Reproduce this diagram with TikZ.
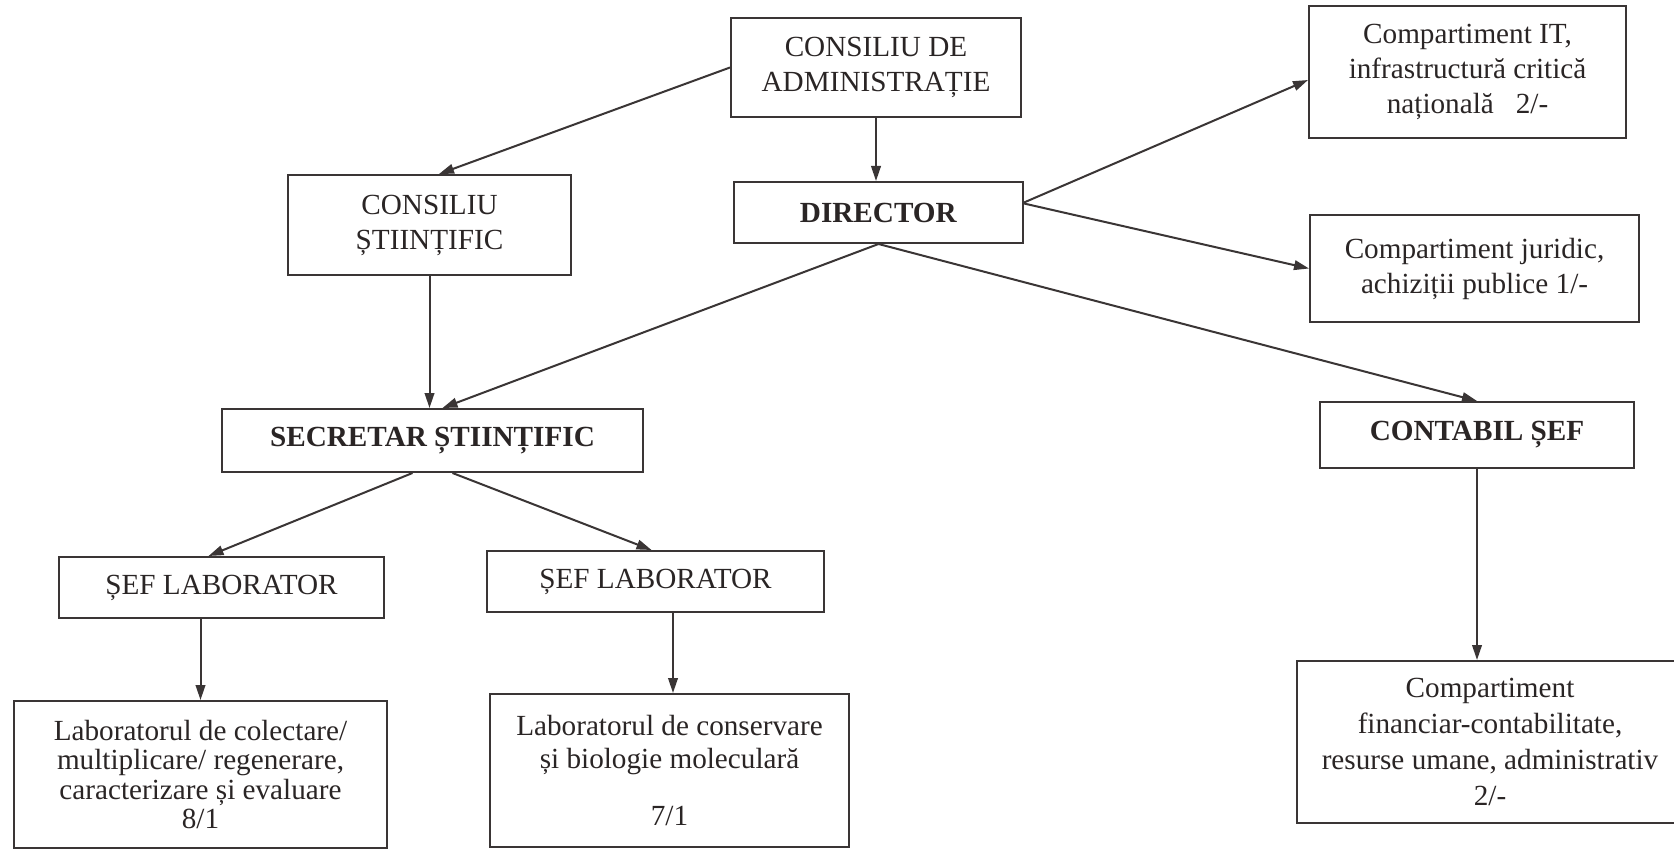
\documentclass[tikz,border=0pt]{standalone}
\usepackage{fontspec}
\setmainfont{Liberation Serif}
\usetikzlibrary{arrows.meta,calc}
\definecolor{linec}{HTML}{3A3535}
\definecolor{textc}{HTML}{2A2525}
\newcommand\boxfont{\fontsize{14.6pt}{17.5pt}\selectfont}
\begin{document}
\begin{tikzpicture}[x=0.5pt,y=-0.5pt,
  orgbox/.style={draw=linec, line width=1pt, inner sep=0pt, align=center, text=textc, font=\boxfont},
  arr/.style={draw=linec, line width=1pt, -{Triangle[length=7.5pt,width=4.8pt]}}]
\useasboundingbox (0,0) rectangle (1674,850);
\clip (0,0) rectangle (1674,850);
\fill[white] (0,0) rectangle (1674,850);

\node[orgbox, minimum width=145pt, minimum height=49.5pt] (cda) at (876,67.5) {CONSILIU DE\\ADMINISTRAȚIE};
\node[orgbox, minimum width=141.5pt, minimum height=50pt] (cs) at (429.5,225) {CONSILIU\\ȘTIINȚIFIC};
\node[orgbox, minimum width=144.5pt, minimum height=30.5pt] (dir) at (878.5,212.5) {\textbf{DIRECTOR}};
\node[orgbox, minimum width=158.5pt, minimum height=66pt] (it) at (1467.5,72) {Compartiment IT,\\infrastructură critică\\națională\ \ \ 2/-};
\node[orgbox, minimum width=164.5pt, minimum height=53.5pt] (jur) at (1474.5,268.5) {Compartiment juridic,\\achiziții publice 1/-};
\node[orgbox, minimum width=210.5pt, minimum height=31.5pt] (sec) at (432.5,440.5) {\textbf{SECRETAR ȘTIINȚIFIC}};
\node[orgbox, minimum width=157pt, minimum height=33pt] (cont) at (1477,435) {\textbf{CONTABIL ȘEF}};
\node[orgbox, minimum width=162.5pt, minimum height=30.5pt] (sefl) at (221.5,587.5) {ȘEF LABORATOR};
\node[orgbox, minimum width=168.5pt, minimum height=30.5pt] (sefr) at (655.5,581.5) {ȘEF LABORATOR};
\node[orgbox, minimum width=186.5pt, minimum height=73.5pt, font=\fontsize{14.6pt}{14.8pt}\selectfont] (labl) at (200.5,774.5) {Laboratorul de colectare/\\multiplicare/ regenerare,\\caracterizare și evaluare\\8/1};
\node[orgbox, minimum width=179.5pt, minimum height=76.5pt, font=\fontsize{14.6pt}{16.5pt}\selectfont] (labr) at (669.5,770.5) {Laboratorul de conservare\\și biologie moleculară\\[12pt]7/1};
\node[orgbox, minimum width=193pt, minimum height=81pt, font=\fontsize{14.6pt}{18pt}\selectfont] (fin) at (1490,742) {Compartiment\\financiar-contabilitate,\\resurse umane, administrativ\\2/-};

\coordinate (rl) at ($(labr.north)+(3.5,0)$);

\draw[arr] (cda.west) -- ($(cs.north)+(9.5,0)$);
\draw[arr] (cda.south) -- (cda.south |- dir.north);
\draw[arr] ($(dir.east)+(0,-10)$) -- ($(it.west)+(0,8)$);
\draw[arr] ($(dir.east)+(0,-9)$) -- (jur.west);
\draw[arr] (dir.south) -- (cont.north);
\draw[arr] (dir.south) -- ($(sec.north)+(10,0)$);
\draw[arr] (cs.south) -- (cs.south |- sec.north);
\draw[arr] ($(sec.south)+(-20,0)$) -- ($(sefl.north)+(-13,0)$);
\draw[arr] ($(sec.south)+(20,0)$) -- ($(sefr.north)+(-4,0)$);
\draw[arr] (sefl.south -| labl.north) -- (labl.north);
\draw[arr] (sefr.south -| rl) -- (rl);
\draw[arr] (cont.south) -- (cont.south |- fin.north);
\end{tikzpicture}
\end{document}
